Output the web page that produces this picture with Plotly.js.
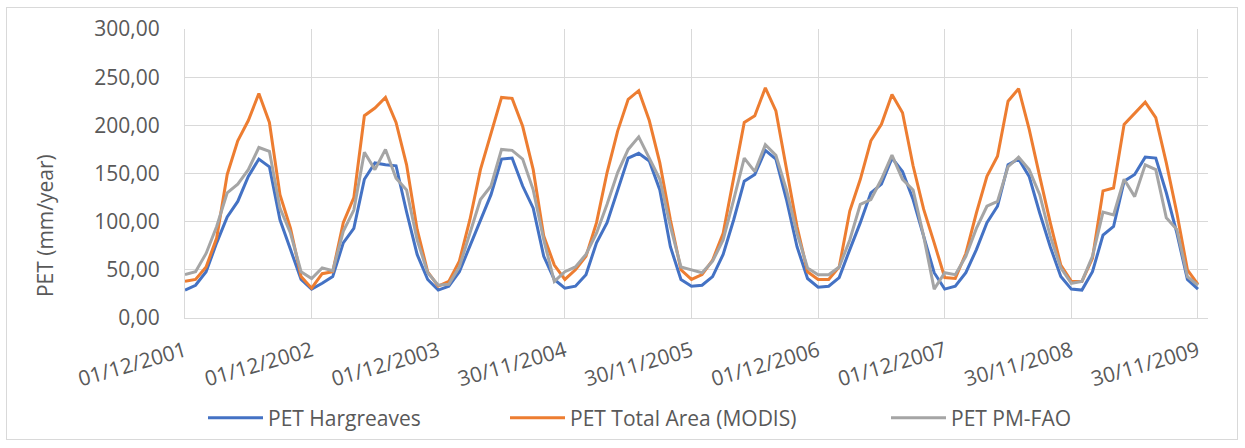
<!DOCTYPE html>
<html>
<head>
<meta charset="utf-8">
<script src="https://cdn.plot.ly/plotly-3.0.1.min.js"></script>
<style>
  html, body { margin: 0; padding: 0; background: #ffffff; }
  #frame { position: absolute; left: 6px; top: 7px; width: 1232px; height: 433px; border: 1px solid #d9d9d9; box-sizing: border-box; }
  #chart { position: absolute; left: 0; top: 0; width: 1245px; height: 448px; }
</style>
</head>
<body>
<div id="frame"></div>
<div id="chart"></div>
<script>
// Tick labels shown on the x axis (one per year, every 12 months)
const tickLabels = ["01/12/2001", "01/12/2002", "01/12/2003", "30/11/2004", "30/11/2005",
                    "01/12/2006", "01/12/2007", "30/11/2008", "30/11/2009"];

// Monthly PET values (mm/year), Dec 2001 .. Dec 2009
const petHargreaves = [
  29, 34, 48, 78, 105, 121, 147, 165, 157, 102, 71, 40,
  30, 36, 43, 78, 93, 144, 161, 159, 158, 110, 66, 40,
  29, 33, 48, 74, 102, 128, 165, 166, 137, 114, 64, 40,
  31, 33, 45, 78, 99, 133, 166, 171, 163, 133, 74, 40,
  33, 34, 43, 66, 102, 142, 149, 174, 165, 123, 74, 41,
  32, 33, 42, 71, 99, 130, 139, 166, 152, 123, 85, 47,
  30, 33, 47, 71, 99, 116, 159, 165, 147, 109, 74, 43,
  30, 29, 48, 86, 95, 142, 149, 167, 166, 130, 88, 40,
  30
];
const petModis = [
  38, 40, 53, 83, 149, 184, 205, 233, 203, 128, 93, 43,
  31, 46, 48, 99, 125, 210, 218, 229, 203, 159, 92, 48,
  33, 38, 59, 102, 154, 192, 229, 228, 199, 154, 85, 55,
  40, 50, 64, 99, 151, 194, 227, 236, 205, 161, 102, 50,
  40, 45, 60, 88, 147, 203, 210, 239, 215, 154, 95, 48,
  40, 40, 53, 111, 144, 184, 201, 232, 213, 158, 113, 78,
  42, 41, 67, 109, 147, 168, 225, 238, 196, 147, 99, 55,
  38, 38, 62, 132, 135, 201, 213, 224, 208, 161, 109, 50,
  35
];
const petPmFao = [
  45, 48, 67, 95, 130, 139, 154, 177, 173, 114, 88, 48,
  41, 52, 49, 90, 112, 172, 154, 175, 145, 133, 81, 47,
  34, 35, 53, 88, 123, 137, 175, 174, 165, 133, 81, 38,
  48, 53, 66, 88, 118, 151, 175, 188, 166, 144, 95, 53,
  50, 47, 59, 81, 123, 166, 152, 180, 169, 133, 88, 52,
  45, 45, 53, 81, 118, 123, 144, 169, 144, 133, 85, 30,
  47, 45, 64, 93, 116, 121, 157, 167, 154, 128, 85, 52,
  36, 38, 64, 110, 107, 144, 126, 159, 154, 104, 92, 43,
  34
];

const seriesNames = ["PET Hargreaves", "PET Total Area (MODIS)", "PET PM-FAO"];
const seriesColors = ["#4472C4", "#ED7D31", "#A5A5A5"];
const seriesValues = [petHargreaves, petModis, petPmFao];
const legendIds = ["legend", "legend2", "legend3"];

const monthIndex = petHargreaves.map((_, i) => i);
const tickPositions = tickLabels.map((_, k) => k * 12);

const font = "'Open Sans', 'Noto Sans', sans-serif";
const textColor = "#595959";

const traces = seriesValues.map((vals, s) => ({
  type: "scatter",
  mode: "lines",
  x: monthIndex,
  y: vals,
  name: seriesNames[s],
  legend: legendIds[s],
  line: { color: seriesColors[s], width: 3 },
  hoverinfo: "x+y+name"
}));

function legendBox(leftPx) {
  return {
    orientation: "h",
    x: leftPx / 1245, xanchor: "left", xref: "container",
    y: (448 - 418) / 448, yref: "container", yanchor: "middle",
    itemwidth: 55,
    font: { family: font, size: 21, color: textColor },
    bgcolor: "rgba(0,0,0,0)"
  };
}

const layout = {
  width: 1245,
  height: 448,
  margin: { l: 185, r: 37, t: 29, b: 130, pad: 0 },
  paper_bgcolor: "rgba(0,0,0,0)",
  plot_bgcolor: "#ffffff",
  separators: ", ",
  font: { family: font, size: 21, color: textColor },
  showlegend: true,
  legend: legendBox(203),
  legend2: legendBox(505),
  legend3: legendBox(886),
  xaxis: {
    range: [0, 96.95],
    tickmode: "array",
    tickvals: tickPositions,
    ticktext: tickLabels,
    tickangle: -16,
    ticks: "",
    ticklabelstandoff: 12,
    showgrid: true,
    gridcolor: "#d9d9d9",
    gridwidth: 1,
    zeroline: false,
    showline: true,
    linecolor: "#d9d9d9",
    linewidth: 1,
    tickfont: { family: font, size: 21, color: textColor },
    fixedrange: true
  },
  yaxis: {
    range: [0, 300],
    dtick: 50,
    tick0: 0,
    tickformat: ".2f",
    ticks: "",
    ticklabelstandoff: 20,
    showgrid: true,
    gridcolor: "#d9d9d9",
    gridwidth: 1,
    zeroline: false,
    showline: true,
    linecolor: "#d9d9d9",
    linewidth: 1,
    tickfont: { family: font, size: 21, color: textColor },
    fixedrange: true
  },
  annotations: [{
    text: "PET (mm/year)",
    xref: "paper", yref: "paper",
    x: (45 - 185) / 1023, y: (317.7 - 226) / 288.4,
    xanchor: "center", yanchor: "middle",
    textangle: -90,
    showarrow: false,
    font: { family: font, size: 21, color: textColor }
  }]
};

Plotly.newPlot("chart", traces, layout, { displayModeBar: false, staticPlot: true });
</script>
</body>
</html>
